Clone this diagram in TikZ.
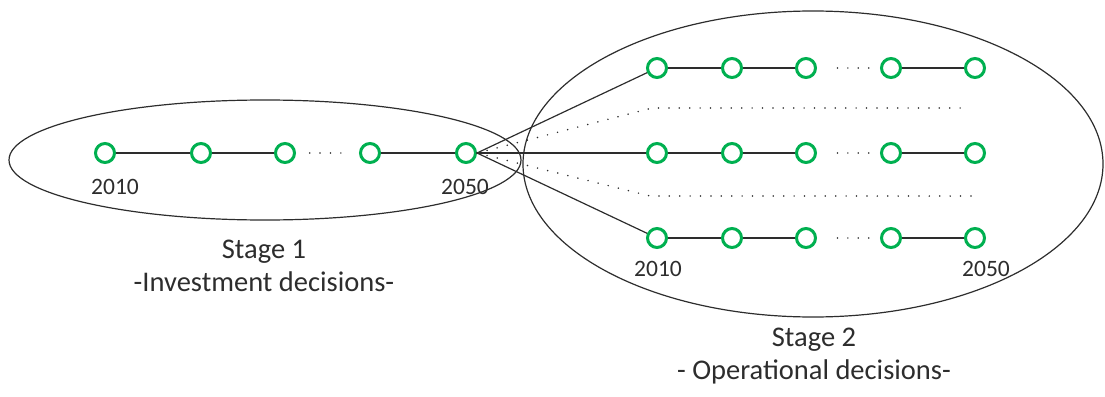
\documentclass[tikz,border=0pt]{standalone}
\usepackage{fontspec}
\setmainfont{Carlito}
\usetikzlibrary{calc}
\definecolor{yeargreen}{RGB}{0,176,80}
\definecolor{inkgray}{RGB}{45,45,45}
\begin{document}
\begin{tikzpicture}[x=1pt,y=-1pt,
  yearnode/.style={circle,draw=yeargreen,fill=white,line width=3pt,minimum size=19pt,inner sep=0pt},
  link/.style={draw=inkgray,line width=1.2pt},
  dotline/.style={draw=inkgray,line width=1.7pt,line cap=round,dash pattern=on 0pt off 10.4pt},
  rim/.style={draw=inkgray,line width=1.2pt},
  yearlabel/.style={text=inkgray,font=\fontsize{23.5}{28}\selectfont,inner sep=0pt},
  stagelabel/.style={text=inkgray,align=center,font=\fontsize{28.5}{33}\selectfont,inner sep=0pt}]
\useasboundingbox (0,0) rectangle (1105,396);

% the two stages
\draw[rim] (265,160) ellipse [x radius=256pt, y radius=60pt];
\draw[rim] (813,164) ellipse [x radius=290pt, y radius=153pt];

% stage 1 time line
\foreach \n/\x in {1/105,2/201,3/285,4/370,5/466}
  \node[yearnode] (a\n) at (\x,153) {};
% stage 2 scenario time lines
\foreach \r/\y in {b/68,c/153,d/238}
  \foreach \n/\x in {1/657,2/732,3/806,4/891,5/975}
    \node[yearnode] (\r\n) at (\x,\y) {};

\foreach \r in {a,b,c,d} {
  \draw[link] (\r1) -- (\r2) -- (\r3);
  \draw[link] (\r4) -- (\r5);
}
\draw[dotline] ($(a3)!0.29!(a4)$) -- ($(a3)!0.67!(a4)$);
\foreach \r in {b,c,d}
  \draw[dotline] ($(\r3)!0.37!(\r4)$) -- ($(\r3)!0.745!(\r4)$);

% branching into scenarios
\coordinate (up1) at (652,108);
\coordinate (up2) at (969,108);
\coordinate (lo1) at (650,196);
\coordinate (lo2) at (980,196);
\draw[link] (a5.east) -- (b1);
\draw[link] (a5.east) -- (c1);
\draw[link] (a5.east) -- (d1);
\draw[dotline] (a5.east) -- (up1) -- (up2);
\draw[dotline] (a5.east) -- (lo1) -- (lo2);

% year labels
\node[yearlabel] (y1) at (115,187) {2010};
\node[yearlabel] (y2) at (465,187) {2050};
\node[yearlabel] (y3) at (658,269) {2010};
\node[yearlabel] (y4) at (986,269) {2050};

% stage captions
\node[stagelabel] (s1) at (264,266) {Stage 1\\-Investment decisions-};
\node[stagelabel] (s2) at (814,356) {Stage 2\\- Operational decisions-};
\end{tikzpicture}
\end{document}
